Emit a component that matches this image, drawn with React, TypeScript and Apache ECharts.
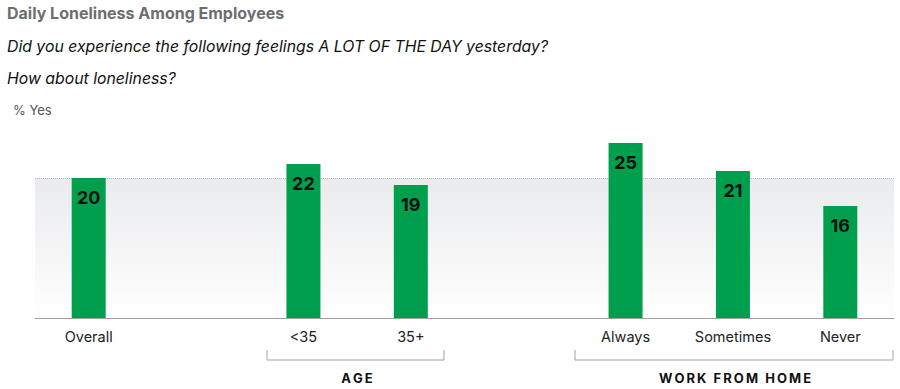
import React, { useEffect, useRef } from "react";
import * as echarts from "echarts";

const categories = ["Overall", "", "<35", "35+", "", "Always", "Sometimes", "Never"];
const values: (number | null)[] = [20, null, 22, 19, null, 25, 21, 16];
const referenceValue = 20;
const groupLabels = ["AGE", "WORK FROM HOME"];

const FONT = "Inter, 'Liberation Sans', sans-serif";

export default function App() {
  const ref = useRef<HTMLDivElement>(null);
  useEffect(() => {
    if (!ref.current) return;
    const chart = echarts.init(ref.current, null, { renderer: "svg" });
    chart.setOption({
      animation: false,
      backgroundColor: "#ffffff",
      grid: { left: 35, right: 6, top: 143, bottom: 71, containLabel: false },
      xAxis: {
        type: "category",
        data: categories,
        axisLine: { lineStyle: { color: "#a0a0a0", width: 1 } },
        axisTick: { show: false },
        axisLabel: { color: "#222", fontSize: 14.5, fontFamily: FONT, margin: 11, interval: 0 },
        z: 5,
      },
      yAxis: {
        type: "value",
        min: 0,
        max: 25,
        show: false,
        splitLine: { show: false },
      },
      series: [
        {
          type: "line",
          data: [],
          z: 1,
          silent: true,
          markArea: {
            silent: true,
            z: 0,
            itemStyle: {
              color: new echarts.graphic.LinearGradient(0, 0, 0, 1, [
                { offset: 0, color: "#eaebed" },
                { offset: 1, color: "#ffffff" },
              ]),
            },
            data: [[{ yAxis: 0 }, { yAxis: referenceValue }]],
          },
          markLine: {
            silent: true,
            z: 1,
            symbol: "none",
            label: { show: false },
            lineStyle: { color: "#b8b8b8", type: "dotted", width: 1 },
            data: [{ yAxis: referenceValue }],
          },
        },
        {
          type: "bar",
          data: values,
          barWidth: 34,
          itemStyle: { color: "#009f4d" },
          label: {
            show: true,
            position: "insideTop",
            distance: 10,
            color: "#111",
            fontSize: 18,
            fontWeight: "bold",
            fontFamily: FONT,
          },
          z: 3,
        },
      ],
      graphic: [
        {
          type: "text",
          x: 7,
          y: 13,
          style: {
            text: "Daily Loneliness Among Employees",
            font: `bold 16px ${FONT}`,
            fill: "#6d6e71",
            verticalAlign: "middle",
          },
        },
        {
          type: "text",
          x: 7,
          y: 46,
          style: {
            text: "Did you experience the following feelings A LOT OF THE DAY yesterday?",
            font: `italic 15.8px ${FONT}`,
            fill: "#111",
            verticalAlign: "middle",
          },
        },
        {
          type: "text",
          x: 7,
          y: 78,
          style: {
            text: "How about loneliness?",
            font: `italic 15.8px ${FONT}`,
            fill: "#111",
            verticalAlign: "middle",
          },
        },
        {
          type: "text",
          x: 13,
          y: 110,
          style: {
            text: "% Yes",
            font: `13px ${FONT}`,
            fill: "#555",
            verticalAlign: "middle",
          },
        },
        {
          type: "polyline",
          shape: { points: [[267, 350], [267, 360], [444, 360], [444, 350]] },
          style: { stroke: "#a0a0a0", lineWidth: 1, fill: null },
        },
        {
          type: "polyline",
          shape: { points: [[575, 350], [575, 360], [893, 360], [893, 350]] },
          style: { stroke: "#a0a0a0", lineWidth: 1, fill: null },
        },
        {
          type: "text",
          x: 357,
          y: 378,
          style: {
            text: groupLabels[0].split("").join("\u2009"),
            font: `bold 13px ${FONT}`,
            fill: "#111",
            align: "center",
            verticalAlign: "middle",
          },
        },
        {
          type: "text",
          x: 735,
          y: 378,
          style: {
            text: groupLabels[1].split("").join("\u2009"),
            font: `bold 13px ${FONT}`,
            fill: "#111",
            align: "center",
            verticalAlign: "middle",
          },
        },
      ],
    });
    return () => chart.dispose();
  }, []);
  return <div ref={ref} style={{ width: 900, height: 389, position: "absolute", left: 0, top: 0 }} />;
}
